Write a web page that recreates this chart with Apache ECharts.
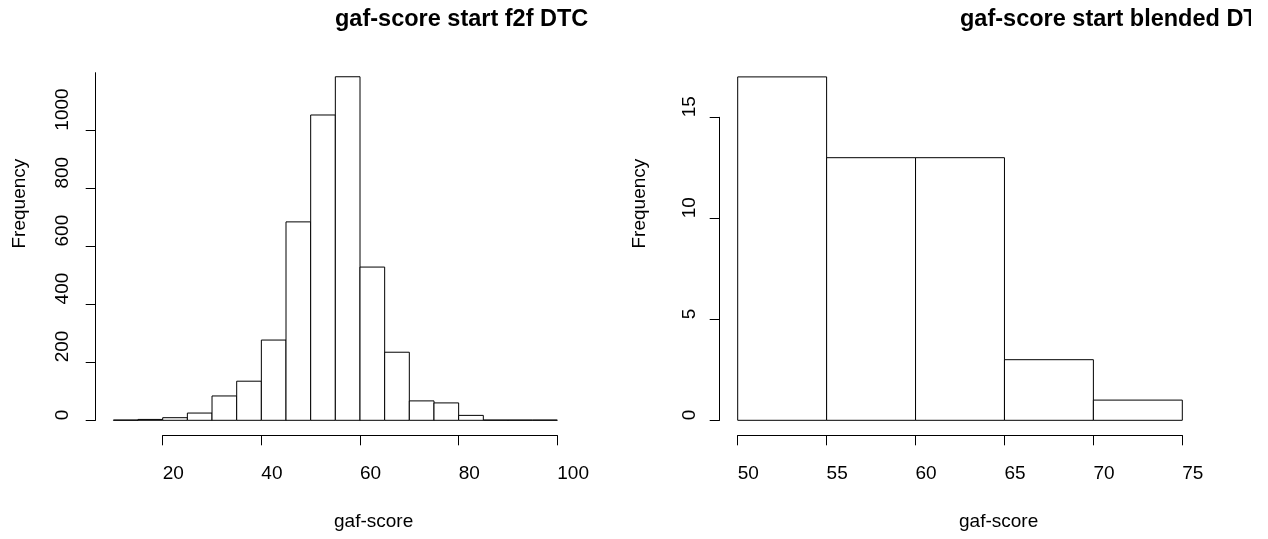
<!DOCTYPE html>
<html>
<head>
<meta charset="utf-8">
<script src="https://cdn.jsdelivr.net/npm/echarts@6/dist/echarts.min.js"></script>
<style>
  html, body { margin: 0; padding: 0; background: #fff; }
  #chart { width: 1268px; height: 539px; }
</style>
</head>
<body>
<div id="chart"></div>
<script>
// ---- data ----
const f2fBinStart  = [10, 15, 20, 25, 30, 35, 40, 45, 50, 55, 60, 65, 70, 75, 80, 85, 90, 95];
const f2fBinEnd    = [15, 20, 25, 30, 35, 40, 45, 50, 55, 60, 65, 70, 75, 80, 85, 90, 95, 100];
const f2fCounts    = [1, 3, 9, 25, 84, 135, 277, 685, 1054, 1186, 529, 235, 67, 60, 17, 1, 1, 1];

const blendBinStart = [50, 55, 60, 65, 70];
const blendBinEnd   = [55, 60, 65, 70, 75];
const blendCounts   = [17, 13, 13, 3, 1];

const f2fXTicks   = [20, 40, 60, 80, 100];
const f2fYTicks   = [0, 200, 400, 600, 800, 1000, 1200];
const blendXTicks = [50, 55, 60, 65, 70, 75];
const blendYTicks = [0, 5, 10, 15];

const titles = ['gaf-score start f2f DTC', 'gaf-score start blended DTC'];
const xName = 'gaf-score';
const yName = 'Frequency';

// ---- build ----
const FONT = '"Liberation Sans", Arial, Helvetica, sans-serif';
function rows(s, e, c) { return s.map((v, i) => [v, e[i], c[i]]); }
function plain(v) { return String(v); }

function renderBar(params, api) {
  const x0 = api.value(0), x1 = api.value(1), c = api.value(2);
  const p0 = api.coord([x0, c]);
  const p1 = api.coord([x1, 0]);
  return {
    type: 'rect',
    shape: { x: p0[0], y: p0[1], width: p1[0] - p0[0], height: p1[1] - p0[1] },
    style: { fill: '#ffffff', stroke: '#000000', lineWidth: 1 }
  };
}

function xAxisCfg(gi, ticks, offset) {
  return {
    type: 'value', gridIndex: gi,
    min: ticks[0], max: ticks[ticks.length - 1],
    interval: ticks[1] - ticks[0],
    offset: offset,
    splitLine: { show: false },
    axisLine: { show: true, onZero: false, lineStyle: { color: '#000', width: 1 } },
    axisTick: { show: true, length: 10, lineStyle: { color: '#000', width: 1 } },
    axisLabel: { show: true, margin: 29, align: 'left', color: '#000', fontSize: 19, fontFamily: FONT,
                 formatter: plain, showMinLabel: true, showMaxLabel: true, hideOverlap: false }
  };
}
function yAxisCfg(gi, ticks, offset, margin, showMax) {
  return {
    type: 'value', gridIndex: gi,
    min: ticks[0], max: ticks[ticks.length - 1],
    interval: ticks[1] - ticks[0],
    offset: offset,
    splitLine: { show: false },
    axisLine: { show: true, onZero: false, lineStyle: { color: '#000', width: 1 } },
    axisTick: { show: true, length: 10, lineStyle: { color: '#000', width: 1 } },
    axisLabel: { show: true, rotate: 90, align: 'left', verticalAlign: 'bottom', margin: margin,
                 color: '#000', fontSize: 19, fontFamily: FONT, formatter: plain,
                 showMinLabel: true, showMaxLabel: showMax, hideOverlap: false }
  };
}

const option = {
  animation: false,
  backgroundColor: '#ffffff',
  title: [
    { text: titles[0], left: 335, top: 8, padding: 0,
      textStyle: { fontFamily: FONT, fontSize: 23.5, fontWeight: 'bold', color: '#000' } },
    { text: titles[1], left: 960, top: 8, padding: 0,
      textStyle: { fontFamily: FONT, fontSize: 23.5, fontWeight: 'bold', color: '#000' } }
  ],
  grid: [
    { left: 162.7, right: 1268 - 557.3, top: 72.7, bottom: 539 - 420.3, containLabel: false, outerBoundsMode: 'none' },
    { left: 737.7, right: 1268 - 1182.3, top: 117.3, bottom: 539 - 420.3, containLabel: false, outerBoundsMode: 'none' }
  ],
  xAxis: [ xAxisCfg(0, f2fXTicks, 15), xAxisCfg(1, blendXTicks, 15) ],
  yAxis: [ yAxisCfg(0, f2fYTicks, 67, 23, false), yAxisCfg(1, blendYTicks, 18, 20, true) ],
  graphic: [
    { type: 'text', x: 334, y: 512, silent: true,
      style: { text: xName, font: '19px ' + FONT, fill: '#000', align: 'left', verticalAlign: 'top' } },
    { type: 'text', x: 959, y: 512, silent: true,
      style: { text: xName, font: '19px ' + FONT, fill: '#000', align: 'left', verticalAlign: 'top' } },
    { type: 'text', x: 29, y: 248.5, rotation: Math.PI / 2, silent: true,
      style: { text: yName, font: '19px ' + FONT, fill: '#000', align: 'left', verticalAlign: 'bottom' } },
    { type: 'text', x: 649, y: 248.5, rotation: Math.PI / 2, silent: true,
      style: { text: yName, font: '19px ' + FONT, fill: '#000', align: 'left', verticalAlign: 'bottom' } },
    // the reference drawing area ends before the window edge, cutting the right title
    { type: 'rect', left: 1251, top: 0, z: 100, silent: true,
      shape: { width: 17, height: 45 }, style: { fill: '#ffffff' } }
  ],
  series: [
    { type: 'custom', xAxisIndex: 0, yAxisIndex: 0, clip: false,
      encode: { x: [0, 1], y: 2 }, renderItem: renderBar,
      data: rows(f2fBinStart, f2fBinEnd, f2fCounts) },
    { type: 'custom', xAxisIndex: 1, yAxisIndex: 1, clip: false,
      encode: { x: [0, 1], y: 2 }, renderItem: renderBar,
      data: rows(blendBinStart, blendBinEnd, blendCounts) }
  ]
};

const chart = echarts.init(document.getElementById('chart'), null, { renderer: 'canvas' });
chart.setOption(option);
</script>
</body>
</html>
